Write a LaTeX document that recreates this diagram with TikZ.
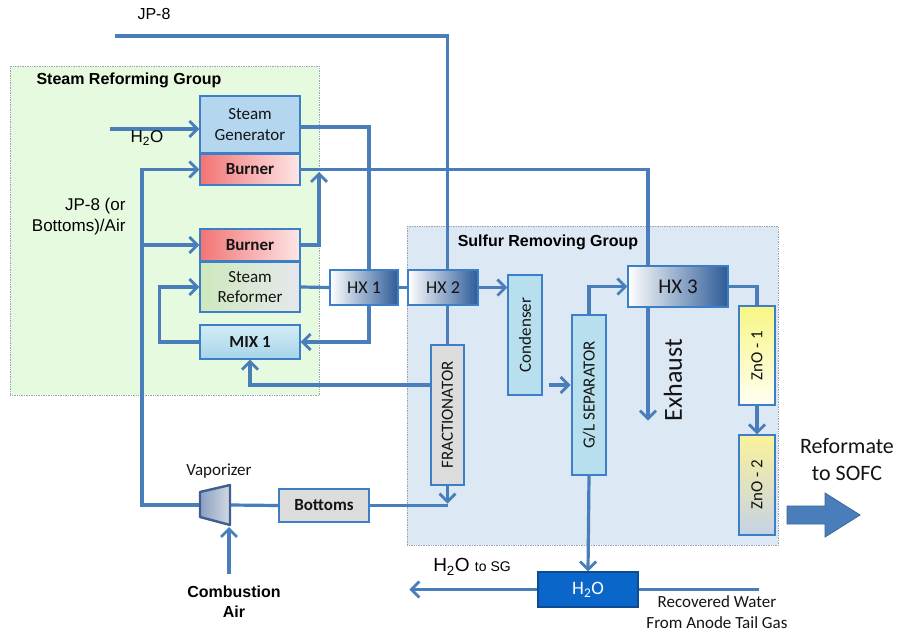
\documentclass[tikz,border=0pt]{standalone}
\usepackage{fontspec}
\setmainfont{Carlito}
\newfontfamily\arial{Liberation Sans}
\usetikzlibrary{arrows.meta,calc}
\definecolor{flowc}{HTML}{4A7EBB}
\definecolor{boxb}{HTML}{3C7FC6}
\definecolor{srgfill}{HTML}{E5FADF}
\definecolor{sulfill}{HTML}{DDE8F5}
\definecolor{grpb}{HTML}{9AA5B0}
\definecolor{sgfill}{HTML}{B4D6EF}
\definecolor{burL}{HTML}{F37474}
\definecolor{burR}{HTML}{FDE6E6}
\definecolor{srL}{HTML}{CDE8BD}
\definecolor{srM}{HTML}{AFDB96}
\definecolor{srR}{HTML}{E6E8EC}
\definecolor{mixT}{HTML}{D3EDF7}
\definecolor{mixB}{HTML}{A6D4E8}
\definecolor{hxR}{HTML}{2D5B98}
\definecolor{hxM}{HTML}{D3D9E2}
\definecolor{cyanfill}{HTML}{B8DFEE}
\definecolor{grayfill}{HTML}{DCDCDC}
\definecolor{znoT}{HTML}{F8F684}
\definecolor{znoB}{HTML}{FFFFF2}
\definecolor{zntT}{HTML}{FAF29C}
\definecolor{zntB}{HTML}{C5D2E5}
\definecolor{waterfill}{HTML}{0A66C8}
\definecolor{waterb}{HTML}{0C4C94}
\definecolor{vapL}{HTML}{8AA0C2}
\definecolor{vapR}{HTML}{D2D8E1}
\definecolor{vapb}{HTML}{3F5F92}
\definecolor{txt}{HTML}{141414}
\pgfdeclarelayer{groups}
\pgfdeclarelayer{lines}
\pgfsetlayers{groups,lines,main}
\newcommand\fz[2]{\fontsize{#1}{#2}\selectfont}
\tikzset{
  every node/.style={font=\fz{17}{20.5}, text=txt},
  flow/.style={draw=flowc, line width=3.2pt},
  arr/.style={flow, -{Straight Barb[length=8pt,width=16pt,line width=2.8pt]}},
  box/.style={draw=boxb, line width=1.1pt, inner sep=0pt, align=center},
  grp/.style={draw=grpb, densely dotted, line width=0.7pt, inner sep=0pt},
  arialtxt/.style={font=\arial\fz{17}{21}, text=black},
  arialbold/.style={font=\arial\bfseries\fz{16}{20}, text=black},
}
\begin{document}
\begin{tikzpicture}[x=1pt,y=-1pt]
\useasboundingbox (0,0) rectangle (899,634);

% ---------- groups ----------
\begin{pgfonlayer}{groups}
\fill[white] (0,0) rectangle (899,634);
\node[grp, fill=srgfill, minimum width=309pt, minimum height=329pt, anchor=north west] (srg) at (10,66) {};
\node[grp, fill=sulfill, minimum width=371pt, minimum height=319pt, anchor=north west] (sul) at (407,226) {};
\end{pgfonlayer}
\node[arialbold] (srgt) at (129,80) {Steam Reforming Group};
\node[arialbold] (sult) at (548,242) {Sulfur Removing Group};

% ---------- boxes ----------
\node[box, minimum width=100pt, minimum height=57pt, fill=sgfill] (sg) at (250,124.5) {Steam\\Generator};
\node[box, minimum width=100pt, minimum height=31pt, left color=burL, right color=burR] (bur1) at (250,169.5) {\bfseries Burner};
\node[box, minimum width=100pt, minimum height=32pt, left color=burL, right color=burR] (bur2) at (250,245) {\bfseries Burner};
\node[box, minimum width=100pt, minimum height=50pt, left color=srL, middle color=srM, right color=srR] (sr) at (250,287) {Steam\\Reformer};
\node[box, minimum width=100pt, minimum height=34pt, top color=mixT, bottom color=mixB] (mix) at (250,342) {\bfseries MIX 1};
\node[box, minimum width=68pt, minimum height=35pt, left color=white, middle color=hxM, right color=hxR, font=\fz{18}{21}] (hx1) at (364,287.5) {HX 1};
\node[box, minimum width=70pt, minimum height=35pt, left color=white, middle color=hxM, right color=hxR, font=\fz{18}{21}] (hx2) at (443,287.5) {HX 2};
\node[box, minimum width=100pt, minimum height=41pt, left color=white, middle color=hxM, right color=hxR, font=\fz{21}{24}] (hx3) at (678,286.5) {HX 3};
\node[box, minimum width=34pt, minimum height=120pt, fill=cyanfill] (cond) at (525,335) {};
\node[box, minimum width=34pt, minimum height=160pt, fill=cyanfill] (gl) at (589,395) {};
\node[box, minimum width=33pt, minimum height=140pt, fill=grayfill] (frac) at (447.5,415) {};
\node[box, minimum width=36pt, minimum height=99pt, top color=znoT, bottom color=znoB] (zno1) at (757,355.5) {};
\node[box, minimum width=36pt, minimum height=100pt, top color=zntT, bottom color=zntB] (zno2) at (757,485) {};
\node[box, minimum width=90pt, minimum height=33pt, fill=grayfill] (bott) at (324,505.5) {\bfseries Bottoms};
\node[box, draw=waterb, minimum width=100pt, minimum height=35pt, fill=waterfill, text=white, font=\fz{19}{22}] (h2o) at (588,589.5) {H\textsubscript{2}O};

\node[rotate=90] (condt) at (cond) {Condenser};
\node[rotate=90] (glt) at (gl) {G/L SEPARATOR};
\node[rotate=90] (fract) at (frac) {FRACTIONATOR};
\node[rotate=90] (zno1t) at (zno1) {ZnO - 1};
\node[rotate=90] (zno2t) at (zno2) {ZnO - 2};

% vaporizer
\draw[line width=2.4pt, draw=vapb, left color=vapL, right color=vapR, line join=round] (200,492) -- (230,485) -- (230,525) -- (200,517) -- cycle;
\coordinate (vapl) at (200,505);
\coordinate (vapr) at (230,505);
\coordinate (vapbt) at (229,527);

% big output arrow
\filldraw[fill=flowc, draw=flowc!80!black, line width=0.8pt] (787,506) -- (825,506) -- (825,493) -- (860,515) -- (825,537) -- (825,524) -- (787,524) -- cycle;

% ---------- connectors ----------
\coordinate (jp) at (115,36);
\coordinate (h2oin) at (110,129);
\coordinate (jv) at (142,505);
\coordinate (air) at (229,574);
\begin{pgfonlayer}{lines}
\draw[flow] (jp) -- (jp -| frac.north) -- (frac.north);
\draw[arr] (h2oin) -- (h2oin -| sg.west);
\draw[arr] (vapl) -- (jv) -- (jv |- bur1.west) -- (bur1.west);
\draw[arr] (jv |- bur2.west) -- (bur2.west);
\draw[arr] (mix.west) -- ++(-40,0) |- (sr.west);
\draw[arr] (sg.east |- 0,127) -- (369,127) |- (mix.east);
\draw[arr] (bur2.east) -| (319,172);
\draw[flow] (bur1.east) -| ([xshift=-30pt]hx3.north);
\draw[arr] ([xshift=-30pt]hx3.south) -- ++(0,113);
\draw[flow] (sr.east) -- (hx1.west);
\draw[flow] (hx1.east) -- (hx2.west);
\draw[arr] (hx2.east) -- (hx2.east -| cond.west);
\path (cond.east) ++(6,50) coordinate (cg1);
\draw[arr] (cg1) -- ++(22,0);
\draw[arr] (gl.north) |- (hx3.west);
\draw[flow] (hx3.east) -| (zno1.north);
\draw[arr] (zno1.south) -- (zno2.north);
\draw[arr] (gl.south) -- (h2o.north);
\draw[arr] (h2o.west) -- ++(-128,0);
\draw[flow] (h2o.east) -- ++(120,0);
\draw[arr] (frac.west |- 0,385) -| (mix.south);
\draw[arr] (frac.south) -- ++(0,18);
\draw[flow] (bott.east) -- (bott.east -| frac.south);
\draw[flow] (vapr) -- (bott.west);
\draw[arr] (air) -- (vapbt);
\end{pgfonlayer}

% ---------- labels ----------
\node[arialtxt, font=\arial\fz{16}{19}] (ljp) at (154,14) {JP-8};
\node[arialtxt] (lh2o) at (147,138) {H\textsubscript{2}O};
\node[arialtxt, align=right, anchor=east] (lfuel) at (129,217) {JP-8 (or\\Bottoms)/Air};
\node (lvap) at (219,471) {Vaporizer};
\node[arialbold, align=center] (lair) at (234,602) {Combustion\\Air};
\node[arialtxt, font=\arial\fz{19}{22}] (lsg) at (472,567) {H\textsubscript{2}O {\fz{14}{16}to SG}};
\node[align=center, font=\fz{17}{21}] (lrec) at (717,612) {Recovered Water\\From Anode Tail Gas};
\node[align=center, font=\fz{22}{27}] (lref) at (847,460) {Reformate\\to SOFC};
\node[rotate=90, font=\fz{26}{30}] (lexh) at (673,380) {Exhaust};
\end{tikzpicture}
\end{document}
